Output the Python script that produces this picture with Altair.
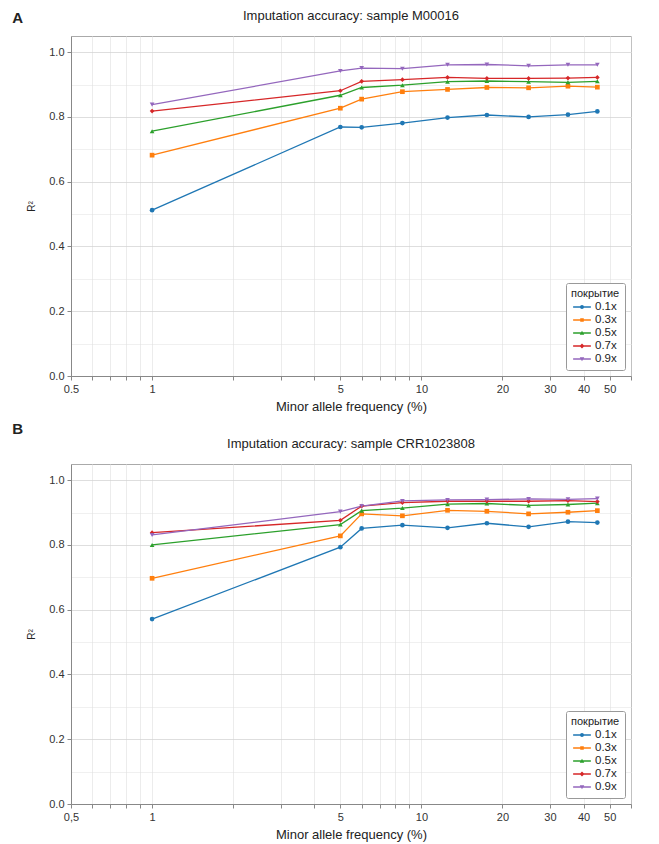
import altair as alt
import pandas as pd

# ---- data ----
maf = [1, 5, 6, 8.5, 12.5, 17.5, 25, 35, 45]
coverages = ["0.1x", "0.3x", "0.5x", "0.7x", "0.9x"]

a_01 = [0.512, 0.769, 0.768, 0.781, 0.798, 0.806, 0.800, 0.807, 0.817]
a_03 = [0.682, 0.827, 0.855, 0.878, 0.885, 0.891, 0.890, 0.895, 0.892]
a_05 = [0.756, 0.867, 0.891, 0.898, 0.909, 0.911, 0.909, 0.907, 0.910]
a_07 = [0.818, 0.881, 0.910, 0.915, 0.922, 0.919, 0.919, 0.920, 0.922]
a_09 = [0.838, 0.942, 0.951, 0.949, 0.961, 0.962, 0.958, 0.961, 0.961]

b_01 = [0.571, 0.793, 0.851, 0.861, 0.853, 0.867, 0.856, 0.872, 0.869]
b_03 = [0.697, 0.828, 0.896, 0.890, 0.907, 0.904, 0.896, 0.901, 0.906]
b_05 = [0.800, 0.863, 0.906, 0.914, 0.926, 0.928, 0.922, 0.925, 0.929]
b_07 = [0.838, 0.876, 0.920, 0.931, 0.935, 0.935, 0.935, 0.937, 0.934]
b_09 = [0.831, 0.903, 0.920, 0.936, 0.939, 0.940, 0.942, 0.941, 0.943]

title_a = "Imputation accuracy: sample M00016"
title_b = "Imputation accuracy: sample CRR1023808"
x_title = "Minor allele frequency (%)"
y_title = "R²"
legend_title = "покрытие"

colors = ["#1f77b4", "#ff7f0e", "#2ca02c", "#d62728", "#9467bd"]
shapes = ["circle", "square", "triangle-up", "diamond", "triangle-down"]
LINE = "M-1.5,-0.11L1.5,-0.11L1.5,0.11L-1.5,0.11Z"
legend_shapes = [
    LINE + "M-0.34,0A0.34,0.34 0 1,1 0.34,0A0.34,0.34 0 1,1 -0.34,0Z",
    LINE + "M-0.3,-0.3H0.3V0.3H-0.3Z",
    LINE + "M0,-0.38L0.38,0.3L-0.38,0.3Z",
    LINE + "M0,-0.42L0.42,0L0,0.42L-0.42,0Z",
    LINE + "M0,0.38L-0.38,-0.3L0.38,-0.3Z",
]

x_ticks = [0.5, 0.6, 0.7, 0.8, 0.9, 1, 2, 3, 4, 5, 6, 7, 8, 9, 10, 20, 30, 40, 50, 60]
y_major = [0.0, 0.2, 0.4, 0.6, 0.8, 1.0]
y_minor = [0.0, 0.1, 0.2, 0.3, 0.4, 0.5, 0.6, 0.7, 0.8, 0.9, 1.0]


def make_df(series):
    rows = []
    for cov, vals in zip(coverages, series):
        for m, v in zip(maf, vals):
            rows.append({"maf": m, "r2": v, "cov": cov})
    return pd.DataFrame(rows)


df_a = make_df([a_01, a_03, a_05, a_07, a_09])
df_b = make_df([b_01, b_03, b_05, b_07, b_09])

FONT = "Liberation Sans"


def panel(df, title, first_label):
    label_expr = (
        f"datum.value == 0.5 ? '{first_label}' : "
        "(indexof([1,5,10,20,30,40,50], datum.value) >= 0 ? format(datum.value, 'd') : '')"
    )
    xscale = alt.Scale(type="log", domain=[0.5, 60], nice=False)
    yscale = alt.Scale(domain=[0, 1.05], nice=False, zero=False)
    cscale = alt.Scale(domain=coverages, range=colors)
    x = alt.X(
        "maf:Q",
        scale=xscale,
        title=x_title,
        axis=alt.Axis(
            values=x_ticks,
            labelExpr=label_expr,
            labelOverlap=False,
            labelFlush=False,
            grid=True,
            gridDash=[1, 1],
            gridColor="#d8d8d8",
            tickSize=4,
            labelPadding=3,
            titlePadding=6,
        ),
    )
    y = alt.Y(
        "r2:Q",
        scale=yscale,
        title=y_title,
        axis=alt.Axis(
            values=y_major,
            format=".1f",
            grid=True,
            gridDash=[1, 1],
            gridColor="#cccccc",
            tickSize=4,
            labelPadding=3,
            titlePadding=12,
            titleFontSize=10,
        ),
    )
    y_grid = alt.Y(
        "r2:Q",
        scale=yscale,
        title=None,
        axis=alt.Axis(
            orient="right",
            values=y_minor,
            labels=False,
            ticks=False,
            domain=False,
            grid=True,
            gridDash=[1, 1],
            gridColor="#e0e0e0",
        ),
    )
    base = alt.Chart(df)
    lines = base.mark_line(strokeWidth=1.3).encode(
        x=x,
        y=y,
        color=alt.Color("cov:N", scale=cscale, legend=None),
    )
    points = base.mark_point(filled=True, size=22, opacity=1).encode(
        x=x,
        y=alt.Y("r2:Q", scale=yscale, axis=None),
        color=alt.Color("cov:N", scale=cscale, legend=None),
        shape=alt.Shape("cov:N", scale=alt.Scale(domain=coverages, range=shapes), legend=None),
    )
    leg = base.transform_filter("false").mark_point(filled=True, opacity=1).encode(
        x=x,
        y=y_grid,
        color=alt.Color("cov:N", scale=cscale, title=legend_title),
        shape=alt.Shape(
            "cov:N",
            scale=alt.Scale(domain=coverages, range=legend_shapes),
            title=legend_title,
        ),
    )
    return (
        alt.layer(leg, lines, points)
        .resolve_scale(color="independent", shape="independent")
        .resolve_axis(y="independent")
        .properties(
            width=560,
            height=340,
            title=alt.Title(title, fontSize=13, fontWeight="normal", offset=13),
        )
    )


def lettered(ch, letter, offset):
    return alt.vconcat(ch).properties(
        title=alt.Title(letter, anchor="start", frame="bounds", fontSize=15,
                        fontWeight="bold", offset=offset, dx=-14)
    )


chart = (
    alt.vconcat(
        lettered(panel(df_a, title_a, "0.5"), "A", -16),
        lettered(panel(df_b, title_b, "0,5"), "B", 1),
        spacing=7,
    )
    .properties(padding={"left": 4, "top": 1, "right": 5, "bottom": 5})
    .configure(font=FONT)
    .configure_view(stroke="#aaaaaa", strokeWidth=1)
    .configure_axis(
        labelFont=FONT,
        titleFont=FONT,
        labelFontSize=11,
        titleFontSize=13,
        titleFontWeight="normal",
        labelColor="#333",
        titleColor="#222",
        domainColor="#888888",
        tickColor="#888888",
    )
    .configure_title(font=FONT, color="#222")
    .configure_legend(
        orient="bottom-right",
        offset=6,
        fillColor="white",
        strokeColor="#999999",
        padding=5,
        cornerRadius=2,
        titleFontSize=11,
        titleFontWeight="normal",
        titleColor="#222",
        titlePadding=2,
        labelFontSize=11.5,
        labelColor="#222",
        symbolSize=140,
        symbolOffset=5,
        symbolStrokeWidth=0,
        rowPadding=1,
        labelOffset=7,
    )
)

chart.save("out.html", embed_options={"renderer": "svg", "actions": False})
